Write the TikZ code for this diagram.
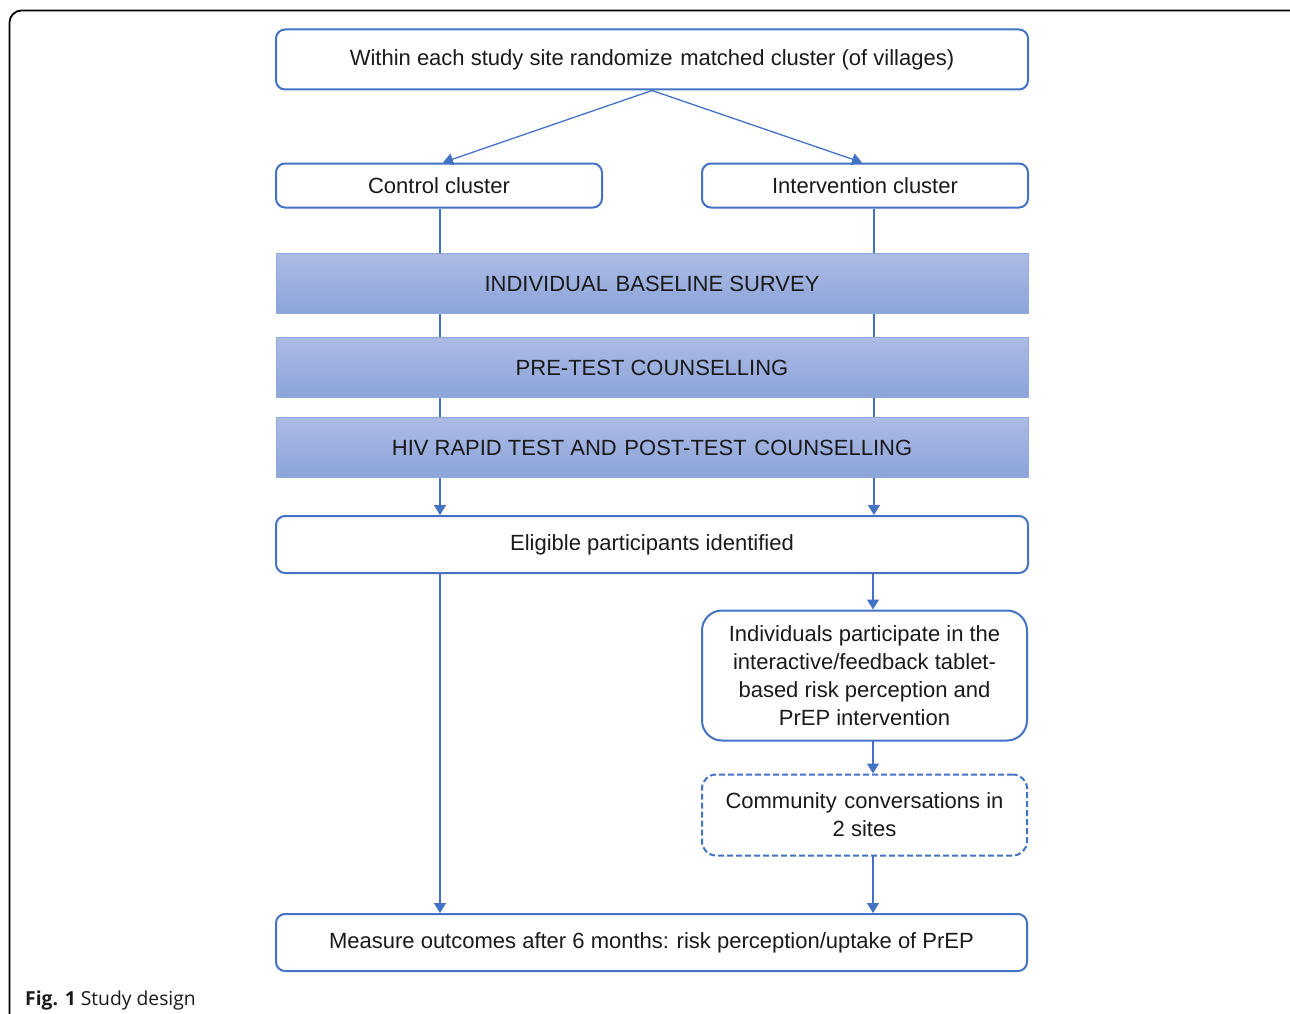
\documentclass[tikz,border=0pt]{standalone}
\usepackage{fontspec}
\setmainfont{Liberation Sans}
\newfontfamily\capfont{Open Sans}
\usetikzlibrary{arrows.meta}
\definecolor{bl}{RGB}{68,114,196}
\definecolor{gtop}{RGB}{172,187,228}
\definecolor{gbot}{RGB}{140,164,218}
\definecolor{gedge}{RGB}{143,170,220}
\definecolor{txt}{RGB}{26,26,26}
\newcommand{\xsp}{\hspace{0.35em}}
\tikzset{
  box/.style={draw=bl, line width=2pt, rounded corners=9pt, fill=white, text=txt,
    font=\fontsize{22}{28}\selectfont, align=center, inner sep=0pt},
  gbox/.style={draw=gedge, line width=1pt, top color=gtop, bottom color=gbot, text=txt,
    font=\fontsize{22}{28}\selectfont, inner sep=0pt, minimum width=752pt, minimum height=60pt},
  conn/.style={draw=bl, line width=1.3pt},
  arr/.style={conn, -{Triangle[length=10pt,width=12pt]}},
}
\begin{document}
\begin{tikzpicture}[x=1pt,y=-1pt]
\useasboundingbox (0,0) rectangle (1290,1014);
\clip (0,0) rectangle (1290,1014);
% outer frame
\draw[line width=1.8pt, black, rounded corners=12pt] (9.5,10.5) rectangle (1320,1040);
% nodes
\node[box, minimum width=752pt, minimum height=60pt] (top) at (652,59.5) {Within each study site randomize\xsp matched cluster (of villages)};
\node[box, minimum width=326pt, minimum height=44pt] (ctrl) at (439,185.5) {Control cluster};
\node[box, minimum width=326pt, minimum height=44pt] (int) at (865,185.5) {Intervention cluster};
\node[gbox] (b1) at (652,283.5) {INDIVIDUAL\xsp BASELINE SURVEY};
\node[gbox] (b2) at (652,367.5) {PRE-TEST COUNSELLING};
\node[gbox] (b3) at (652,447.5) {HIV RAPID TEST AND\xsp POST-TEST\xsp COUNSELLING};
\node[box, minimum width=752pt, minimum height=57pt] (elig) at (652,544.5) {Eligible participants identified};
\node[box, rounded corners=20pt, minimum width=325pt, minimum height=130pt] (ind) at (864.5,675.5) {Individuals participate in the\\interactive/feedback tablet-\\based risk perception and\\PrEP intervention};
\node[box, dashed, dash pattern=on 6pt off 3pt, rounded corners=14pt, minimum width=325pt, minimum height=81pt] (comm) at (864.5,815) {Community\xsp conversations in\\2 sites};
\node[box, minimum width=751pt, minimum height=57pt] (meas) at (651.5,942.5) {Measure outcomes after 6 months:\xsp risk perception/uptake of PrEP};
% column coordinates
\coordinate (L) at (440,0);
\coordinate (R) at (874,0);
\coordinate (R2) at (873,0);
% connectors
\draw[arr] (top.south) -- ([xshift=4pt]ctrl.north);
\draw[arr] (top.south) -- ([xshift=-3pt]int.north);
\draw[conn] (ctrl.south -| L) -- (b1.north -| L);
\draw[conn] (int.south -| R) -- (b1.north -| R);
\draw[conn] (b1.south -| L) -- (b2.north -| L);
\draw[conn] (b1.south -| R) -- (b2.north -| R);
\draw[conn] (b2.south -| L) -- (b3.north -| L);
\draw[conn] (b2.south -| R) -- (b3.north -| R);
\draw[arr] (b3.south -| L) -- (elig.north -| L);
\draw[arr] (b3.south -| R) -- (elig.north -| R);
\draw[arr] (elig.south -| L) -- (meas.north -| L);
\draw[arr] (elig.south -| R2) -- (ind.north -| R2);
\draw[arr] ([yshift=2pt]ind.south -| R2) -- (comm.north -| R2);
\draw[arr] ([yshift=2pt]comm.south -| R2) -- (meas.north -| R2);
% caption
\node[anchor=base west, inner sep=0pt, text=txt, font=\capfont\fontsize{19.3}{24}\selectfont] (cap) at (25,1005) {\textbf{Fig. 1} Study design};
\end{tikzpicture}
\end{document}
